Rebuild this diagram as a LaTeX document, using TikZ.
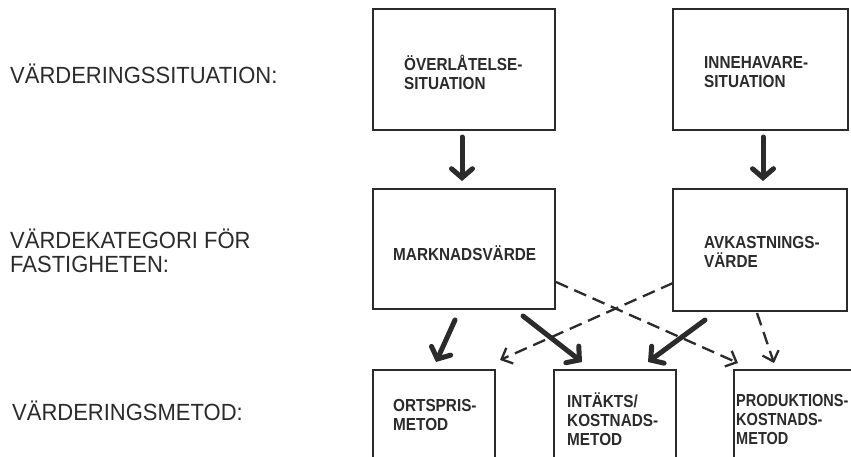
\documentclass[tikz,border=0pt]{standalone}
\usepackage{fontspec}
\setmainfont{Liberation Sans}
\newfontfamily\boxfont[FakeStretch=0.88]{Liberation Sans}
\newfontfamily\narrowfont[FakeStretch=0.835]{Liberation Sans}
\newfontfamily\sidefont[FakeStretch=0.94]{Liberation Sans}
\usetikzlibrary{arrows.meta,calc}
\definecolor{ink}{HTML}{2B2B2B}
\tikzset{
  box/.style={draw=ink, line width=1.8pt, inner sep=0pt},
  boxtext/.style={anchor=west, inner sep=0pt, align=left, text=ink,
    font=\boxfont\bfseries\fontsize{17.4}{19}\selectfont},
  narrowtext/.style={boxtext, font=\narrowfont\bfseries\fontsize{17.4}{19}\selectfont},
  sidetext/.style={anchor=west, inner sep=0pt, align=left, text=ink,
    font=\sidefont\fontsize{23.4}{23.5}\selectfont},
  bigarrow/.style={draw=ink, line width=5pt, line cap=round,
    -{Straight Barb[length=9pt,width=21pt,line cap=round]}},
  dasharrow/.style={draw=ink, line width=2.3pt, dash pattern=on 13pt off 7pt,
    -{Straight Barb[length=9pt,width=17pt]}}
}
\begin{document}
\begin{tikzpicture}[x=1pt,y=-1pt]
\useasboundingbox (0,0) rectangle (851,456);
\fill[white] (0,0) rectangle (851,456);
\clip (0,0) rectangle (851,456);

% boxes
\node[box, minimum width=182pt, minimum height=121pt] (A) at (464,69.5) {};
\node[box, minimum width=175pt, minimum height=121pt] (B) at (760.5,69.5) {};
\node[box, minimum width=182pt, minimum height=120pt] (C) at (464,249) {};
\node[box, minimum width=174pt, minimum height=122pt] (D) at (760,250) {};
\node[box, minimum width=122pt, minimum height=100pt] (E) at (434,420) {};
\node[box, minimum width=122pt, minimum height=100pt] (F) at (615,420) {};
\node[box, minimum width=150pt, minimum height=100pt] (G) at (809,420) {};

% box texts
\node[boxtext] (tA) at (404,72) {ÖVERLÅTELSE-\\SITUATION};
\node[boxtext] (tB) at (704,72) {INNEHAVARE-\\SITUATION};
\node[boxtext] (tC) at (393,253) {MARKNADSVÄRDE};
\node[boxtext] (tD) at (704,252) {AVKASTNINGS-\\VÄRDE};
\node[boxtext] (tE) at (393,415) {ORTSPRIS-\\METOD};
\node[boxtext] (tF) at (567,419) {INTÄKTS/\\KOSTNADS-\\METOD};
\node[narrowtext] (tG) at (736,419) {PRODUKTIONS-\\KOSTNADS-\\METOD};

% side labels
\node[sidetext] (s1) at (10,74) {VÄRDERINGSSITUATION:};
\node[sidetext] (s2) at (10,251) {VÄRDEKATEGORI FÖR\\FASTIGHETEN:};
\node[sidetext] (s3) at (12,411) {VÄRDERINGSMETOD:};

% arrow end points
\coordinate (a1) at (462,137); \coordinate (a2) at (462,181);
\coordinate (b1) at (763,137); \coordinate (b2) at (763,181);
\coordinate (c1) at (455,320); \coordinate (c2) at (436,362);
\coordinate (c3) at (523,316); \coordinate (c4) at (582,362);
\coordinate (d1) at (705,320); \coordinate (d2) at (648,362);
\coordinate (c5) at (556,282); \coordinate (g1) at (738,363);
\coordinate (d3) at (673,283); \coordinate (e1) at (500,360);
\coordinate (d4) at (757,313); \coordinate (g2) at (774,363);

% thick arrows
\draw[bigarrow] (a1) -- (a2);
\draw[bigarrow] (b1) -- (b2);
\draw[bigarrow] (c1) -- (c2);
\draw[bigarrow] (c3) -- (c4);
\draw[bigarrow] (d1) -- (d2);

% dashed arrows
\draw[dasharrow] (c5) -- (g1);
\draw[dasharrow] (d3) -- (e1);
\draw[dasharrow] (d4) -- (g2);
\end{tikzpicture}
\end{document}
